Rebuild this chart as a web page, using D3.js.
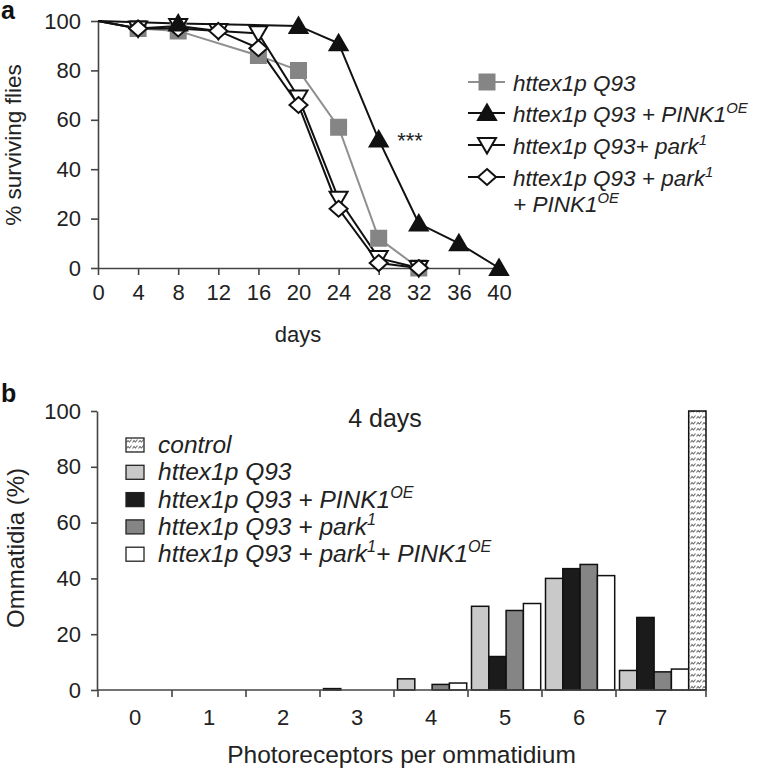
<!DOCTYPE html>
<html><head><meta charset="utf-8">
<script src="https://cdn.jsdelivr.net/npm/d3@7"></script>
<style>
html,body{margin:0;padding:0;background:#fff;}
svg{display:block;font-family:"Liberation Sans",Arial,sans-serif;}
</style></head>
<body>
<svg id="chart" width="762" height="770"></svg>
<script>
// ---------- Panel a: survival data ----------
const dayTicks = [0,4,8,12,16,20,24,28,32,36,40];
const pctTicks = [0,20,40,60,80,100];
const daysQ93 = [0,4,8,16,20,24,28,32];
const survQ93 = [100,97,96,86,80,57,12,0];
const daysPINK1 = [0,8,20,24,28,32,36,40];
const survPINK1 = [100,99,98,91,52,18,10,0];
const daysPark = [0,4,8,12,16,20,24,28,32];
const survPark = [100,97,98,96,95,69,28,4,0];
const daysParkPINK1 = [0,4,8,12,16,20,24,28,32];
const survParkPINK1 = [100,97,97,96,89,66,24,2,0];

// ---------- Panel b: photoreceptor data ----------
const photoCategories = ["0","1","2","3","4","5","6","7"];
const barSeries = ["Q93","PINK1","park","parkPINK1","control"];
const valQ93 = [0,0,0,0.5,4,30,40,7];
const valPINK1 = [0,0,0,0,0,12,43.5,26];
const valPark = [0,0,0,0,2,28.5,45,6.5];
const valParkPINK1 = [0,0,0,0,2.5,31,41,7.5];
const valControl = [0,0,0,0,0,0,0,100];
const barTicks = [0,20,40,60,80,100];

const svg = d3.select("#chart");
const ink = "#222", axisCol = "#444";

// pattern for control
const defs = svg.append("defs");
const pat = defs.append("pattern").attr("id","hatch").attr("patternUnits","userSpaceOnUse")
  .attr("width",6).attr("height",6);
pat.append("rect").attr("width",6).attr("height",6).attr("fill","#fff");
pat.append("path").attr("d","M0.5,4.5 L2,2.5 L3.5,4 L5.5,1.5").attr("fill","none").attr("stroke","#6f6f6f").attr("stroke-width",1.1);

function richText(sel, x, y, segs, size, italic){
  const t = sel.append("text").attr("x",x).attr("y",y).attr("font-size",size)
    .attr("fill",ink).attr("font-style", italic ? "italic" : "normal");
  let raised = false;
  segs.forEach(s=>{
    const sp = t.append("tspan").text(s.t);
    if (s.sup && !raised){ sp.attr("dy",-size*0.4).attr("font-size",size*0.66); raised = true; }
    else if (s.sup){ sp.attr("font-size",size*0.66); }
    else if (raised){ sp.attr("dy",size*0.4); raised = false; }
  });
  return t;
}

// ================= Panel a =================
const xA = d3.scaleLinear().domain([0,40]).range([98,499]);
const yA = d3.scaleLinear().domain([0,100]).range([268,21]);
const gA = svg.append("g");

gA.append("g").attr("transform","translate(0,268)")
  .call(d3.axisBottom(xA).tickValues(dayTicks).tickSize(7).tickSizeOuter(0).tickPadding(9))
  .call(g=>{g.select(".domain").attr("stroke",axisCol).attr("stroke-width",1.6);
    g.selectAll(".tick line").attr("stroke",axisCol).attr("stroke-width",1.6);
    g.selectAll("text").attr("font-size",22).attr("fill",ink).attr("font-family","Liberation Sans, Arial, sans-serif");});
gA.append("g").attr("transform","translate(98,0)")
  .call(d3.axisLeft(yA).tickValues(pctTicks).tickSize(7).tickSizeOuter(0).tickPadding(10))
  .call(g=>{g.select(".domain").attr("stroke",axisCol).attr("stroke-width",1.6);
    g.selectAll(".tick line").attr("stroke",axisCol).attr("stroke-width",1.6);
    g.selectAll("text").attr("font-size",22).attr("fill",ink).attr("font-family","Liberation Sans, Arial, sans-serif");});

gA.append("text").attr("x",298).attr("y",342).attr("text-anchor","middle").attr("font-size",22).attr("fill",ink).text("days");
gA.append("text").attr("transform","translate(21,145) rotate(-90)").attr("text-anchor","middle").attr("font-size",22.5).attr("fill",ink).text("% surviving flies");
svg.append("text").attr("x",1).attr("y",19).attr("font-size",25).attr("font-weight","bold").attr("fill","#111").text("a");

const mk = {
  square: "M-7.5,-7.5H7.5V7.5H-7.5Z",
  up: "M0,-8.5L9,7L-9,7Z",
  down: "M0,8.5L9,-7L-9,-7Z",
  diamond: "M0,-8L9,0L0,8L-9,0Z"
};
const survSeries = [
  {days:daysQ93, vals:survQ93, line:"#8f8f8f", fill:"#858585", stroke:"#858585", m:"square"},
  {days:daysPark, vals:survPark, line:"#111", fill:"#fff", stroke:"#111", m:"down"},
  {days:daysParkPINK1, vals:survParkPINK1, line:"#111", fill:"#fff", stroke:"#111", m:"diamond"},
  {days:daysPINK1, vals:survPINK1, line:"#111", fill:"#111", stroke:"#111", m:"up"}
];
const lineGen = d3.line().x(d=>xA(d[0])).y(d=>yA(d[1]));
survSeries.forEach(s=>{
  const pts = s.days.map((d,i)=>[d,s.vals[i]]);
  gA.append("path").datum(pts).attr("d",lineGen).attr("fill","none").attr("stroke",s.line).attr("stroke-width",2);
});
survSeries.forEach(s=>{
  const pts = s.days.map((d,i)=>[d,s.vals[i]]).filter(p=>p[0]>0);
  gA.selectAll(null).data(pts).enter().append("path")
    .attr("transform",p=>`translate(${xA(p[0])},${yA(p[1])})`)
    .attr("d",mk[s.m]).attr("fill",s.fill).attr("stroke",s.stroke).attr("stroke-width",2);
});
gA.append("text").attr("x",410).attr("y",148).attr("text-anchor","middle").attr("font-size",22).attr("fill",ink).text("***");

// legend a
const legA = [
  {s:survSeries[0], y:82, segs:[{t:"httex1p Q93"}]},
  {s:survSeries[3], y:113, segs:[{t:"httex1p Q93 + PINK1"},{t:"OE",sup:true}]},
  {s:survSeries[1], y:145, segs:[{t:"httex1p Q93+ park"},{t:"1",sup:true}]},
  {s:survSeries[2], y:177, segs:[{t:"httex1p Q93 + park"},{t:"1",sup:true}]}
];
legA.forEach(l=>{
  gA.append("line").attr("x1",468).attr("x2",505).attr("y1",l.y).attr("y2",l.y).attr("stroke",l.s.line).attr("stroke-width",2);
  gA.append("path").attr("transform",`translate(487,${l.y})`).attr("d",mk[l.s.m]).attr("fill",l.s.fill).attr("stroke",l.s.stroke).attr("stroke-width",2);
  richText(gA,513,l.y+9,l.segs,22.5,true);
});
richText(gA,513,212,[{t:"+ PINK1"},{t:"OE",sup:true}],22.5,true);

// ================= Panel b =================
const gB = svg.append("g");
const yB = d3.scaleLinear().domain([0,100]).range([690,411]);
const xB = d3.scaleBand().domain(photoCategories).range([98,98+8*74]).padding(0);
const x1 = d3.scaleBand().domain(barSeries).range([3.5,3.5+5*17.3]).padding(0);
const axisEnd = xB("7") + x1.range()[1];

const barValues = {Q93:valQ93, PINK1:valPINK1, park:valPark, parkPINK1:valParkPINK1, control:valControl};
const barFill = {Q93:"#c9c9c9", PINK1:"#1b1b1b", park:"#858585", parkPINK1:"#ffffff", control:"url(#hatch)"};

const bars = [];
barSeries.forEach(s=>photoCategories.forEach((c,i)=>{ if(barValues[s][i]>0) bars.push({s,c,v:barValues[s][i]}); }));
gB.selectAll("rect.bar").data(bars).enter().append("rect").attr("class","bar")
  .attr("x",d=>xB(d.c)+x1(d.s)).attr("width",x1.bandwidth())
  .attr("y",d=>yB(d.v)).attr("height",d=>yB(0)-yB(d.v))
  .attr("fill",d=>barFill[d.s]).attr("stroke","#111").attr("stroke-width",1.5);

// x axis b (custom, last band widened by control bar)
gB.append("line").attr("x1",97).attr("x2",axisEnd).attr("y1",690).attr("y2",690).attr("stroke",axisCol).attr("stroke-width",1.6);
const tickXs = photoCategories.map(c=>xB(c)).concat([axisEnd]);
gB.selectAll("line.xt").data(tickXs).enter().append("line").attr("class","xt")
  .attr("x1",d=>d).attr("x2",d=>d).attr("y1",690).attr("y2",697).attr("stroke",axisCol).attr("stroke-width",1.6);
gB.selectAll("text.xl").data(photoCategories).enter().append("text").attr("class","xl")
  .attr("x",(c,i)=> i<photoCategories.length-1 ? xB(c)+xB.bandwidth()/2 : (xB(c)+axisEnd)/2)
  .attr("y",725).attr("text-anchor","middle").attr("font-size",22).attr("fill",ink).text(c=>c);

gB.append("g").attr("transform","translate(97,0)")
  .call(d3.axisLeft(yB).tickValues(barTicks).tickSize(6).tickSizeOuter(0).tickPadding(10))
  .call(g=>{g.select(".domain").attr("stroke",axisCol).attr("stroke-width",1.6);
    g.selectAll(".tick line").attr("stroke",axisCol).attr("stroke-width",1.6);
    g.selectAll("text").attr("font-size",22).attr("fill",ink).attr("font-family","Liberation Sans, Arial, sans-serif");});

gB.append("text").attr("x",(97+axisEnd)/2).attr("y",763).attr("text-anchor","middle").attr("font-size",24.5).attr("fill",ink).text("Photoreceptors per ommatidium");
gB.append("text").attr("transform","translate(24,548) rotate(-90)").attr("text-anchor","middle").attr("font-size",24).attr("fill",ink).text("Ommatidia (%)");
svg.append("text").attr("x",1).attr("y",402).attr("font-size",25).attr("font-weight","bold").attr("fill","#111").text("b");
gB.append("text").attr("x",385).attr("y",427).attr("text-anchor","middle").attr("font-size",25).attr("fill",ink).text("4 days");

// legend b
const legB = [
  {s:"control", segs:[{t:"control"}]},
  {s:"Q93", segs:[{t:"httex1p Q93"}]},
  {s:"PINK1", segs:[{t:"httex1p Q93 + PINK1"},{t:"OE",sup:true}]},
  {s:"park", segs:[{t:"httex1p Q93 + park"},{t:"1",sup:true}]},
  {s:"parkPINK1", segs:[{t:"httex1p Q93 + park"},{t:"1",sup:true},{t:"+ PINK1"},{t:"OE",sup:true}]}
];
legB.forEach((l,i)=>{
  const base = 453 + i*27.3;
  gB.append("rect").attr("x",126).attr("y",base-15).attr("width",18).attr("height",14)
    .attr("fill",barFill[l.s]).attr("stroke","#222").attr("stroke-width",1.3);
  richText(gB,158,base,l.segs,24.5,true);
});
</script>
</body></html>
